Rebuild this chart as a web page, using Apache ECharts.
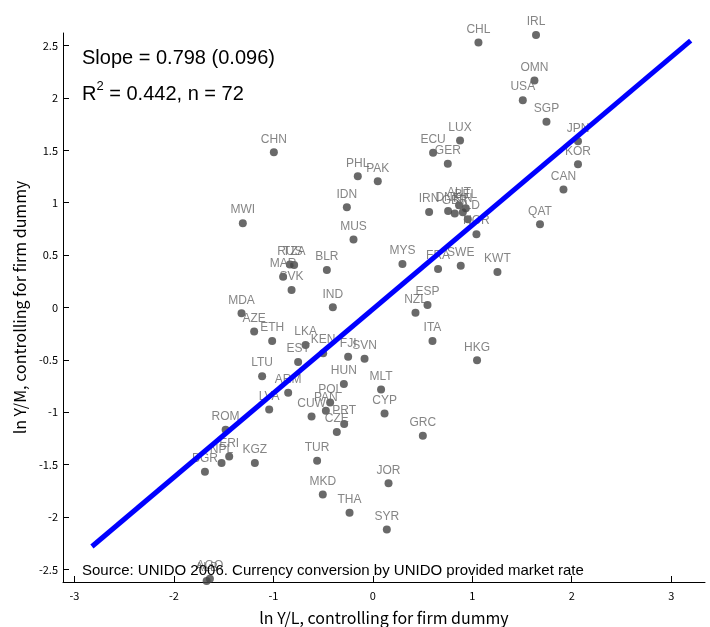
<!DOCTYPE html>
<html>
<head>
<meta charset="utf-8">
<script src="https://cdn.jsdelivr.net/npm/echarts@6/dist/echarts.min.js"></script>
<style>html,body{margin:0;padding:0;background:#fff}#c{width:710px;height:627px}</style>
</head>
<body>
<div id="c"></div>
<script>
var codes = ["CHL","IRL","OMN","USA","SGP","JPN","KOR","CAN","QAT","LUX","ECU","GER","IRN","DNK","GBR","AUT","BEL","FIN","NLD","NOR","MYS","FRA","SWE","KWT","ESP","NZL","ITA","HKG","CHN","PHL","PAK","IDN","MWI","MUS","RUS","TZA","MAR","SVK","BLR","IND","MDA","AZE","ETH","LKA","KEN","FJI","SVN","EST","LTU","ARM","HUN","MLT","LVA","POL","PAN","CUW","PRT","CZE","CYP","ROM","ERI","NPL","BGR","KGZ","TUR","GRC","MKD","THA","JOR","SYR","ALB","AGO"];
var xVals = [1.062,1.641,1.625,1.508,1.746,2.063,2.063,1.917,1.681,0.877,0.606,0.754,0.566,0.757,0.824,0.867,0.935,0.905,0.955,1.042,0.298,0.656,0.884,1.253,0.550,0.429,0.600,1.048,-0.995,-0.151,0.050,-0.261,-1.307,-0.194,-0.834,-0.791,-0.902,-0.817,-0.462,-0.402,-1.320,-1.193,-1.012,-0.676,-0.499,-0.248,-0.083,-0.751,-1.113,-0.851,-0.291,0.083,-1.042,-0.429,-0.472,-0.616,-0.288,-0.362,0.118,-1.480,-1.444,-1.521,-1.688,-1.186,-0.560,0.503,-0.503,-0.234,0.158,0.141,-1.671,-1.638];
var yVals = [2.529,2.602,2.167,1.979,1.773,1.586,1.367,1.126,0.795,1.595,1.478,1.373,0.912,0.922,0.897,0.976,0.948,0.910,0.843,0.700,0.414,0.367,0.398,0.338,0.024,-0.050,-0.319,-0.503,1.481,1.252,1.205,0.957,0.805,0.650,0.411,0.405,0.293,0.167,0.357,0.002,-0.055,-0.230,-0.319,-0.357,-0.436,-0.469,-0.490,-0.519,-0.655,-0.814,-0.731,-0.783,-0.973,-0.907,-0.986,-1.040,-1.112,-1.189,-1.011,-1.167,-1.421,-1.484,-1.567,-1.484,-1.462,-1.224,-1.786,-1.960,-1.678,-2.119,-2.611,-2.589];
var fitLine = [[-2.824,-2.281],[3.196,2.548]];
var xTicks = [-3,-2,-1,0,1,2,3];
var yTicks = [-2.5,-2,-1.5,-1,-0.5,0,0.5,1,1.5,2,2.5];

var pts = codes.map(function(c,i){return [xVals[i], yVals[i], c];});
var chart = echarts.init(document.getElementById('c'), null, {renderer:'canvas'});
var tickFont = "'Noto Sans CJK JP', sans-serif";
var sans = "'Liberation Sans', Arial, sans-serif";
chart.setOption({
  animation:false,
  backgroundColor:'#fff',
  grid:{left:63,right:5,top:33,bottom:45,containLabel:false,outerBoundsMode:'none'},
  xAxis:{type:'value',min:-3.115,max:3.34,
    name:'ln Y/L, controlling for firm dummy',nameLocation:'middle',nameGap:28,
    nameTextStyle:{fontSize:16,color:'#000',fontFamily:tickFont},
    axisLine:{show:true,onZero:false,lineStyle:{color:'#000',width:1}},
    axisTick:{show:true,inside:true,length:6,lineStyle:{color:'#000'},customValues:xTicks},
    axisLabel:{color:'#000',fontSize:11,margin:8,fontFamily:tickFont,customValues:xTicks},
    splitLine:{show:false}},
  yAxis:{type:'value',min:-2.62,max:2.62,
    name:'ln Y/M, controlling for firm dummy',nameLocation:'middle',nameGap:34,nameRotate:90,
    nameTextStyle:{fontSize:16,color:'#000',fontFamily:tickFont},
    axisLine:{show:true,onZero:false,lineStyle:{color:'#000',width:1}},
    axisTick:{show:true,inside:true,length:6,lineStyle:{color:'#000'},customValues:yTicks},
    axisLabel:{color:'#000',fontSize:11,margin:5,fontFamily:tickFont,customValues:yTicks},
    splitLine:{show:false}},
  series:[
    {type:'scatter',data:pts,symbolSize:8,z:2,
     itemStyle:{color:'#444'},
     label:{show:true,position:'top',distance:3,formatter:function(p){return p.data[2];},
       color:'#666',fontSize:12,fontFamily:sans},
     labelLayout:{hideOverlap:false}},
    {type:'line',data:fitLine,z:5,symbol:'none',lineStyle:{color:'#0000ff',width:5},silent:true}
  ],
  graphic:[
    {type:'text',left:82,top:48,z:10,style:{text:'Slope = 0.798 (0.096)',fontSize:20,fill:'#000',fontFamily:sans}},
    {type:'text',left:82,top:80,z:10,style:{text:'{a|R}{s|2}{a| = 0.442, n = 72}',fill:'#000',
      rich:{a:{fontSize:20,fontFamily:sans,lineHeight:24,verticalAlign:'bottom'},
            s:{fontSize:13,fontFamily:sans,lineHeight:24,verticalAlign:'top'}}}},
    {type:'text',left:82,top:563,z:10,style:{text:'Source: UNIDO 2006. Currency conversion by UNIDO provided market rate',fontSize:15,fill:'#000',fontFamily:sans}}
  ]
});
</script>
</body>
</html>
